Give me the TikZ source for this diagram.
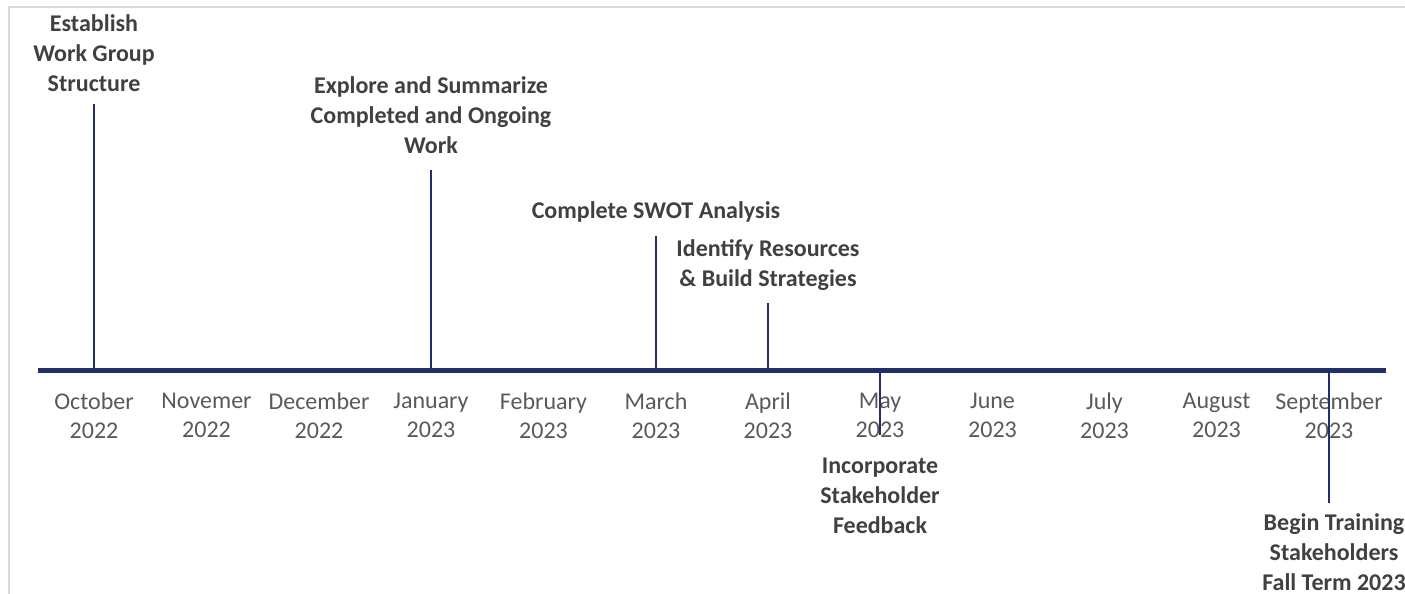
\documentclass[tikz,border=0pt]{standalone}
\usepackage{fontspec}
\setmainfont{Carlito}
\usetikzlibrary{positioning}

\definecolor{navy}{HTML}{232F68}
\definecolor{monthgray}{HTML}{595959}
\definecolor{labelgray}{HTML}{404040}
\definecolor{framegray}{HTML}{D9D9D9}

\begin{document}
\begin{tikzpicture}[x=1pt, y=-1pt,
  month/.style={anchor=north, align=center, inner sep=0pt, text=monthgray,
                font=\fontsize{24}{28.5}\selectfont},
  mile/.style={align=center, inner sep=0pt, text depth=0pt, text=labelgray,
               font=\fontsize{24}{30}\selectfont\bfseries},
  stem/.style={navy, line width=2pt},
  timeline/.style={navy, line width=5pt}]
\useasboundingbox (0,0) rectangle (1405,594);
% chart frame
\draw[framegray, line width=2pt] (9,594) -- (9,7) -- (1405,7);

% timeline ends
\coordinate (t0) at (38,370);
\coordinate (t1) at (1386,370);

% months
\node[month] (oct) at (94,393)    {October\\2022};
\node[month] (nov) at (206.5,393) {Novemer\\2022};
\node[month] (dec) at (319,393)   {December\\2022};
\node[month] (jan) at (431,393)   {January\\2023};
\node[month] (feb) at (543.5,393) {February\\2023};
\node[month] (mar) at (656,393)   {March\\2023};
\node[month] (apr) at (768,393)   {April\\2023};
\node[month] (may) at (880,393)   {May\\2023};
\node[month] (jun) at (992.5,393) {June\\2023};
\node[month] (jul) at (1104.5,393){July\\2023};
\node[month] (aug) at (1216.5,393){August\\2023};
\node[month] (sep) at (1329,393)  {September\\2023};

% stem ends
\coordinate (est-top) at (94,104);
\coordinate (exp-top) at (431,170);
\coordinate (swot-top) at (656,236);
\coordinate (res-top) at (768,303);
\coordinate (fb-end) at (880,435);
\coordinate (tr-end) at (1329,503);

% milestones
\node[mile, above=12pt of est-top] (est) {Establish\\Work Group\\Structure};
\node[mile, above=16pt of exp-top] (exp) {Explore and Summarize\\Completed and Ongoing\\Work};
\node[mile, above=17pt of swot-top] (swot) {Complete SWOT Analysis};
\node[mile, above=16pt of res-top] (res) {Identify Resources\\\& Build Strategies};
\node[mile, below=23pt of fb-end, anchor=north] (fb) {Incorporate\\Stakeholder\\Feedback};
\node[mile, below=10pt of tr-end, anchor=north, xshift=5pt] (tr) {Begin Training\\Stakeholders\\Fall Term 2023};

\draw[stem] (est-top) -- (est-top |- t0);
\draw[stem] (exp-top) -- (exp-top |- t0);
\draw[stem] (swot-top) -- (swot-top |- t0);
\draw[stem] (res-top) -- (res-top |- t0);
\draw[stem] (fb-end |- t0) -- (fb-end);
\draw[stem] (tr-end |- t0) -- (tr-end);

\draw[timeline] (t0) -- (t1);
\end{tikzpicture}
\end{document}
